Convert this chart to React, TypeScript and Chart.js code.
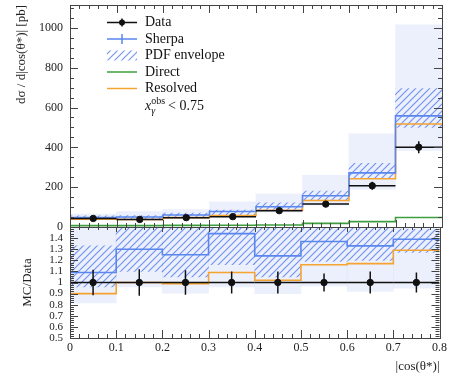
import React, { useEffect, useRef } from "react";
import { Chart, registerables } from "chart.js";
Chart.register(...registerables);

const FONT = '"Liberation Serif", "Times New Roman", serif';

const binEdges = [0, 0.1, 0.2, 0.3, 0.4, 0.5, 0.6, 0.7, 0.8];
const binCenters = [0.05, 0.15, 0.25, 0.35, 0.45, 0.55, 0.65, 0.75];

// top panel: dσ/d|cos θ*| [pb]
const dataXsec = [43, 38, 47, 52, 82, 115, 207, 401];
const dataXsecErr = [5, 4, 5, 5, 8, 9, 20, 30];
const sherpaXsec = [48, 50, 60, 78, 102, 157, 272, 558];
const directXsec = [7, 7, 8, 9, 10, 18, 27, 48];
const resolvedXsec = [39, 38, 47, 57, 84, 133, 242, 517];
const pdfLoXsec = [41, 42, 49, 60, 86, 137, 248, 500];
const pdfHiXsec = [56, 57, 70, 85, 122, 180, 320, 695];
const scaleLoXsec = [35, 36, 43, 50, 74, 111, 190, 385];
const scaleHiXsec = [65, 77, 88, 127, 165, 260, 468, 1015];

// bottom panel: MC/Data
const ratioData = [1, 1, 1, 1, 1, 1, 1, 1];
const ratioDataErr = [0.115, 0.12, 0.11, 0.1, 0.1, 0.08, 0.1, 0.09];
const ratioSherpa = [1.09, 1.3, 1.25, 1.44, 1.24, 1.37, 1.33, 1.39];
const ratioResolved = [0.9, 1.0, 0.99, 1.09, 1.02, 1.16, 1.17, 1.29];
const ratioPdfLo = [0.96, 1.1, 1.05, 1.16, 1.05, 1.19, 1.2, 1.27];
const ratioPdfHi = [1.33, 1.6, 1.6, 1.6, 1.6, 1.6, 1.6, 1.48];
const ratioScaleLo = [0.815, 0.96, 0.905, 0.96, 0.9, 0.97, 0.92, 0.95];
const ratioScaleHi = [1.6, 1.6, 1.6, 1.6, 1.6, 1.6, 1.6, 1.6];

const topYTicks = [0, 200, 400, 600, 800, 1000];
const legendLabels = ["Data", "Sherpa", "PDF envelope", "Direct", "Resolved"];

const BLUE = "#5a86ee";
const HATCH = "rgba(85,125,238,0.8)";
const LIGHT = "rgba(196,210,247,0.33)";
const ORANGE = "#f5a432";
const GREEN = "#3c9e3c";
const FRAME = "#444";

const stepPoints = (vals: number[]) =>
  binEdges.map((e, i) => ({ x: e, y: vals[Math.min(i, vals.length - 1)] }));
const bandPoints = (lo: number[], hi: number[]) =>
  binCenters.map((c, i) => ({ x: c, y: [lo[i], hi[i]] }));
const dotPoints = (vals: number[]) => binCenters.map((c, i) => ({ x: c, y: vals[i] }));

function makeHatch(): CanvasPattern | string {
  const pc = document.createElement("canvas");
  pc.width = 7;
  pc.height = 7;
  const c = pc.getContext("2d");
  if (!c) return HATCH;
  c.strokeStyle = HATCH;
  c.lineWidth = 1.2;
  c.beginPath();
  c.moveTo(-1, 8);
  c.lineTo(8, -1);
  c.moveTo(-4, 4);
  c.lineTo(4, -4);
  c.moveTo(3, 11);
  c.lineTo(11, 3);
  c.stroke();
  const p = c.createPattern(pc, "repeat");
  return p || HATCH;
}

function errorBarPlugin(id: string, vals: number[], errs: number[]) {
  return {
    id,
    afterDatasetsDraw(chart: any) {
      const { ctx, chartArea } = chart;
      const xs = chart.scales.x;
      const ys = chart.scales.y;
      ctx.save();
      ctx.beginPath();
      ctx.rect(chartArea.left, chartArea.top, chartArea.right - chartArea.left, chartArea.bottom - chartArea.top);
      ctx.clip();
      ctx.strokeStyle = "#111";
      ctx.lineWidth = 1.5;
      vals.forEach((v, i) => {
        const x0 = xs.getPixelForValue(binEdges[i]);
        const x1 = xs.getPixelForValue(binEdges[i + 1]);
        const xc = xs.getPixelForValue(binCenters[i]);
        const y = ys.getPixelForValue(v);
        ctx.beginPath();
        ctx.moveTo(x0, y);
        ctx.lineTo(x1, y);
        ctx.moveTo(xc, ys.getPixelForValue(v - errs[i]));
        ctx.lineTo(xc, ys.getPixelForValue(v + errs[i]));
        ctx.stroke();
      });
      ctx.restore();
    },
  };
}

function frameTicksPlugin(
  id: string,
  yMin: number,
  yMax: number,
  yMajor: number,
  yMinor: number,
  topLen: [number, number],
  bottomLen: [number, number]
) {
  return {
    id,
    afterDatasetsDraw(chart: any) {
      const { ctx, chartArea } = chart;
      const { left, right, top, bottom } = chartArea;
      const xs = chart.scales.x;
      const ys = chart.scales.y;
      ctx.save();
      ctx.strokeStyle = FRAME;
      ctx.lineWidth = 1;
      ctx.beginPath();
      const nY = Math.round((yMax - yMin) / yMinor + 1e-6);
      for (let i = 0; i <= nY; i++) {
        const v = yMin + i * yMinor;
        if (v > yMax + 1e-9) break;
        const r = v / yMajor;
        const major = Math.abs(r - Math.round(r)) < 1e-6;
        const len = major ? 8 : 4;
        const py = Math.round(ys.getPixelForValue(v)) + 0.5;
        ctx.moveTo(left, py);
        ctx.lineTo(left + len, py);
        ctx.moveTo(right, py);
        ctx.lineTo(right - len, py);
      }
      for (let i = 0; i <= 40; i++) {
        const v = i * 0.02;
        const major = i % 5 === 0;
        const px = Math.round(xs.getPixelForValue(v)) + 0.5;
        const lt = major ? topLen[0] : topLen[1];
        const lb = major ? bottomLen[0] : bottomLen[1];
        ctx.moveTo(px, top);
        ctx.lineTo(px, top + lt);
        ctx.moveTo(px, bottom);
        ctx.lineTo(px, bottom - lb);
      }
      ctx.stroke();
      ctx.strokeRect(Math.round(left) + 0.5, Math.round(top) + 0.5, Math.round(right - left), Math.round(bottom - top));
      ctx.restore();
    },
  };
}

function legendPlugin(hatch: CanvasPattern | string) {
  return {
    id: "customLegend",
    afterDraw(chart: any) {
      const ctx = chart.ctx as CanvasRenderingContext2D;
      const x0 = 107;
      const x1 = 137;
      const tx = 145;
      const rows = [22.5, 39, 55.5, 72, 88.5];
      ctx.save();
      ctx.font = `14px ${FONT}`;
      ctx.textBaseline = "middle";
      ctx.fillStyle = "#111";
      legendLabels.forEach((lab, i) => {
        const y = rows[i];
        ctx.fillStyle = "#111";
        ctx.fillText(lab, tx, y);
        ctx.lineWidth = 1.5;
        if (i === 0) {
          ctx.strokeStyle = "#111";
          ctx.beginPath();
          ctx.moveTo(x0, y);
          ctx.lineTo(x1, y);
          ctx.moveTo((x0 + x1) / 2, y - 4);
          ctx.lineTo((x0 + x1) / 2, y + 4);
          ctx.stroke();
          ctx.beginPath();
          ctx.arc((x0 + x1) / 2, y, 3, 0, Math.PI * 2);
          ctx.fill();
        } else if (i === 1) {
          ctx.strokeStyle = BLUE;
          ctx.beginPath();
          ctx.moveTo(x0, y);
          ctx.lineTo(x1, y);
          ctx.moveTo((x0 + x1) / 2, y - 5);
          ctx.lineTo((x0 + x1) / 2, y + 5);
          ctx.stroke();
        } else if (i === 2) {
          ctx.fillStyle = hatch as any;
          ctx.fillRect(x0, y - 5, x1 - x0, 10);
        } else {
          ctx.strokeStyle = i === 3 ? GREEN : ORANGE;
          ctx.beginPath();
          ctx.moveTo(x0, y);
          ctx.lineTo(x1, y);
          ctx.stroke();
        }
      });
      // x_γ^obs < 0.75
      const by = 109.5;
      ctx.fillStyle = "#111";
      ctx.textBaseline = "alphabetic";
      ctx.font = `italic 14px ${FONT}`;
      ctx.fillText("x", tx, by);
      const xw = ctx.measureText("x").width;
      ctx.font = `italic 10px ${FONT}`;
      ctx.fillText("γ", tx + xw, by + 4);
      ctx.font = `10px ${FONT}`;
      ctx.fillText("obs", tx + xw, by - 6);
      const ow = ctx.measureText("obs").width;
      ctx.font = `14px ${FONT}`;
      ctx.fillText("< 0.75", tx + xw + ow + 3, by);
      ctx.restore();
    },
  };
}

export default function App() {
  const topRef = useRef<HTMLCanvasElement>(null);
  const botRef = useRef<HTMLCanvasElement>(null);

  useEffect(() => {
    if (!topRef.current || !botRef.current) return;
    const hatch = makeHatch();
    const fmt = (v: number) => String(Number(Number(v).toFixed(2)));

    const barCommon = {
      type: "bar" as const,
      grouped: false,
      barPercentage: 1,
      categoryPercentage: 1,
      borderWidth: 0,
    };
    const stepCommon = {
      type: "line" as const,
      stepped: "before" as const,
      pointRadius: 0,
      borderWidth: 1.6,
      fill: false,
    };
    const fitY = (s: any) => {
      s.width = 70;
      s.paddingTop = 0;
      s.paddingBottom = 0;
    };

    const topChart = new Chart(topRef.current, {
      type: "bar",
      data: {
        datasets: [
          { ...barCommon, label: "scale", data: bandPoints(scaleLoXsec, scaleHiXsec) as any, backgroundColor: LIGHT, order: 10 },
          { ...barCommon, label: "PDF envelope", data: bandPoints(pdfLoXsec, pdfHiXsec) as any, backgroundColor: hatch as any, order: 9 },
          { ...stepCommon, label: "Direct", data: stepPoints(directXsec), borderColor: GREEN, order: 4 },
          { ...stepCommon, label: "Resolved", data: stepPoints(resolvedXsec), borderColor: ORANGE, order: 3 },
          { ...stepCommon, label: "Sherpa", data: stepPoints(sherpaXsec), borderColor: BLUE, order: 2 },
          {
            type: "line",
            label: "Data",
            data: dotPoints(dataXsec),
            showLine: false,
            pointRadius: 3.2,
            pointBackgroundColor: "#111",
            pointBorderColor: "#111",
            order: 0,
          } as any,
        ],
      },
      options: {
        responsive: false,
        animation: false,
        events: [],
        layout: { padding: { left: 0, right: 8, top: 4, bottom: 149 } },
        plugins: { legend: { display: false }, tooltip: { enabled: false } },
        scales: {
          x: { type: "linear", min: 0, max: 0.8, display: false, offset: false },
          y: {
            type: "linear",
            position: "left",
            min: 0,
            max: 1115,
            grid: { display: false, drawTicks: false },
            border: { display: false },
            ticks: {
              stepSize: 200,
              includeBounds: false,
              autoSkip: false,
              padding: 7,
              color: "#222",
              font: { family: FONT, size: 12 },
              callback: (v: any) => (topYTicks.includes(Math.round(Number(v))) ? fmt(v) : ""),
            },
            title: {
              display: true,
              text: "dσ / d|cos(θ*)| [pb]",
              align: "end",
              color: "#222",
              font: { family: FONT, size: 13 },
              padding: { top: 14, bottom: 0 },
            },
            afterFit: fitY,
          },
        },
      },
      plugins: [
        errorBarPlugin("topErr", dataXsec, dataXsecErr),
        frameTicksPlugin("topFrame", 0, 1115, 200, 50, [8, 4], [7, 4]),
        legendPlugin(hatch),
      ],
    } as any);

    const botChart = new Chart(botRef.current, {
      type: "bar",
      data: {
        datasets: [
          { ...barCommon, label: "scale", data: bandPoints(ratioScaleLo, ratioScaleHi) as any, backgroundColor: LIGHT, order: 10 },
          { ...barCommon, label: "PDF envelope", data: bandPoints(ratioPdfLo, ratioPdfHi) as any, backgroundColor: hatch as any, order: 9 },
          { ...stepCommon, label: "Resolved", data: stepPoints(ratioResolved), borderColor: ORANGE, order: 3 },
          { ...stepCommon, label: "Sherpa", data: stepPoints(ratioSherpa), borderColor: BLUE, order: 2 },
          {
            type: "line",
            label: "Data",
            data: dotPoints(ratioData),
            showLine: false,
            pointRadius: 3.2,
            pointBackgroundColor: "#111",
            pointBorderColor: "#111",
            order: 0,
          } as any,
        ],
      },
      options: {
        responsive: false,
        animation: false,
        events: [],
        layout: { padding: { left: 0, right: 8, top: 227, bottom: 0 } },
        plugins: { legend: { display: false }, tooltip: { enabled: false } },
        scales: {
          x: {
            type: "linear",
            position: "bottom",
            min: 0,
            max: 0.8,
            offset: false,
            grid: { display: false, drawTicks: false },
            border: { display: false },
            ticks: {
              stepSize: 0.1,
              autoSkip: false,
              maxRotation: 0,
              padding: 3,
              color: "#222",
              font: { family: FONT, size: 12 },
              callback: (v: any) => fmt(v),
            },
            title: {
              display: true,
              text: "|cos(θ*)|",
              align: "end",
              color: "#222",
              font: { family: FONT, size: 13 },
              padding: { top: 0, bottom: 2 },
            },
            afterFit: (s: any) => {
              s.height = 38;
            },
          },
          y: {
            type: "linear",
            position: "left",
            min: 0.5,
            max: 1.5,
            grid: { display: false, drawTicks: false },
            border: { display: false },
            ticks: {
              stepSize: 0.1,
              includeBounds: false,
              autoSkip: false,
              padding: 7,
              color: "#222",
              font: { family: FONT, size: 11 },
              callback: (v: any) => (Number(v) > 1.45 ? "" : fmt(v)),
            },
            title: {
              display: true,
              text: "MC/Data",
              color: "#222",
              font: { family: FONT, size: 13 },
              padding: { top: 20, bottom: 0 },
            },
            afterFit: fitY,
          },
        },
      },
      plugins: [
        errorBarPlugin("botErr", ratioData, ratioDataErr),
        frameTicksPlugin("botFrame", 0.5, 1.5, 0.1, 0.02, [5, 3], [8, 4]),
      ],
    } as any);

    return () => {
      topChart.destroy();
      botChart.destroy();
    };
  }, []);

  const cstyle: React.CSSProperties = { position: "absolute", left: 0, top: 0, width: 450, height: 376 };
  return (
    <div style={{ position: "fixed", left: 0, top: 0, width: 450, height: 376, background: "#fff" }}>
      <canvas ref={topRef} width={450} height={376} style={cstyle} />
      <canvas ref={botRef} width={450} height={376} style={cstyle} />
    </div>
  );
}
